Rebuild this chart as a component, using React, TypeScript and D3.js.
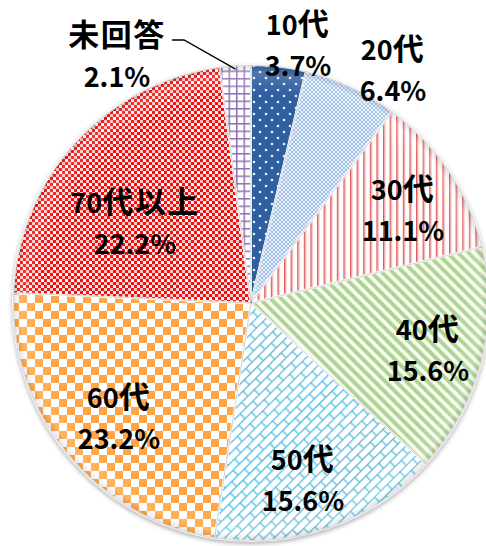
import React from 'react';
import * as d3 from 'd3';

// Age groups, clockwise from 12 o'clock
const categories = ['10代', '20代', '30代', '40代', '50代', '60代', '70代以上', '未回答'];
const shares = [3.7, 6.4, 11.1, 15.6, 15.6, 23.2, 22.2, 2.1];
const shareLabels = ['3.7%', '6.4%', '11.1%', '15.6%', '15.6%', '23.2%', '22.2%', '2.1%'];

// label layout (center x, first baseline)
const labelPos: [number, number][] = [
  [298, 35], [393, 60], [403, 200], [428, 340],
  [303, 470], [119, 408], [135, 213], [117, 46],
];

const patternIds = ['p10', 'p20', 'p30', 'p40', 'p50', 'p60', 'p70', 'pna'];

const W = 486;
const H = 546;
const cx = 251;
const cy = 303;
const R = 238;

// kanji a bit larger than the digits, like the original font mix
function runs(s: string) {
  const out: { t: string; cjk: boolean }[] = [];
  for (const ch of s) {
    const cjk = ch.charCodeAt(0) > 0x2000;
    const last = out[out.length - 1];
    if (last && last.cjk === cjk) last.t += ch;
    else out.push({ t: ch, cjk });
  }
  return out;
}

export default function App() {
  const pie = d3.pie<number>().sort(null).value(d => d)(shares);
  const arc = d3.arc<d3.PieArcDatum<number>>().innerRadius(0).outerRadius(R);
  const na = pie[pie.length - 1];
  const naMid = (na.startAngle + na.endAngle) / 2;
  const leadEnd: [number, number] = [
    cx + Math.sin(naMid) * R * 0.985,
    cy - Math.cos(naMid) * R * 0.985,
  ];
  const [lx, ly] = labelPos[7];

  return (
    <svg width={W} height={H} style={{ position: 'absolute', left: 0, top: 0 }}
      fontFamily="'Noto Sans CJK JP', 'Noto Sans', sans-serif">
      <defs>
        <filter id="shadow" x="-10%" y="-10%" width="120%" height="120%" colorInterpolationFilters="sRGB">
          <feGaussianBlur in="SourceAlpha" stdDeviation="2.2" />
          <feOffset dy="1.5" result="b" />
          <feFlood floodColor="#000" floodOpacity="0.3" />
          <feComposite in2="b" operator="in" />
          <feMerge>
            <feMergeNode />
            <feMergeNode in="SourceGraphic" />
          </feMerge>
        </filter>
        <radialGradient id="bevel" cx={0} cy={0} r={R} gradientUnits="userSpaceOnUse">
          <stop offset="0.88" stopColor="#fff" stopOpacity="0" />
          <stop offset="0.97" stopColor="#fff" stopOpacity="0.15" />
          <stop offset="1" stopColor="#000" stopOpacity="0.1" />
        </radialGradient>
        {/* 10代: dark blue, white dots */}
        <pattern id="p10" width="12" height="12" patternUnits="userSpaceOnUse">
          <rect width="12" height="12" fill="#2E5F9F" />
          <circle cx="3" cy="3" r="1.3" fill="#fff" opacity="0.9" />
          <circle cx="9" cy="9" r="1.3" fill="#fff" opacity="0.9" />
        </pattern>
        {/* 20代: fine light blue checker */}
        <pattern id="p20" width="4" height="4" patternUnits="userSpaceOnUse">
          <rect width="4" height="4" fill="#EAF1FA" />
          <rect width="2" height="2" fill="#9DBFE8" />
          <rect x="2" y="2" width="2" height="2" fill="#9DBFE8" />
        </pattern>
        {/* 30代: red vertical stripes */}
        <pattern id="p30" width="6.6" height="10" patternUnits="userSpaceOnUse">
          <rect width="6.6" height="10" fill="#fff" />
          <rect x="0" width="1.5" height="10" fill="#E05A5A" />
          <rect x="1.5" width="0.9" height="10" fill="#F2B4B4" />
        </pattern>
        {/* 40代: green diagonal stripes */}
        <pattern id="p40" width="7.5" height="10" patternUnits="userSpaceOnUse" patternTransform="rotate(-45)">
          <rect width="7.5" height="10" fill="#F7FBF2" />
          <rect width="3.8" height="10" fill="#ADD491" />
        </pattern>
        {/* 50代: diagonal brick */}
        <pattern id="p50" width="18" height="14" patternUnits="userSpaceOnUse" patternTransform="rotate(-45)">
          <rect width="18" height="14" fill="#fff" />
          <g stroke="#55BCE0" strokeWidth="1.3">
            <line x1="0" y1="0.6" x2="18" y2="0.6" />
            <line x1="0" y1="7.6" x2="18" y2="7.6" />
            <line x1="4" y1="0.6" x2="4" y2="7.6" />
            <line x1="13" y1="7.6" x2="13" y2="14" />
          </g>
        </pattern>
        {/* 60代: orange large checker */}
        <pattern id="p60" width="16" height="16" patternUnits="userSpaceOnUse">
          <rect width="16" height="16" fill="#fff" />
          <rect width="8" height="8" fill="#FFA646" />
          <rect x="8" y="8" width="8" height="8" fill="#FFA646" />
        </pattern>
        {/* 70代以上: red small checker */}
        <pattern id="p70" width="6" height="6" patternUnits="userSpaceOnUse">
          <rect width="6" height="6" fill="#FF0A0A" />
          <rect width="3" height="3" fill="#fff" />
          <rect x="3" y="3" width="3" height="3" fill="#FFC8C8" />
        </pattern>
        {/* 未回答: purple grid */}
        <pattern id="pna" width="7.5" height="7.5" patternUnits="userSpaceOnUse">
          <rect width="7.5" height="7.5" fill="#fff" />
          <rect width="7.5" height="1.5" fill="#8E72B4" />
          <rect width="1.5" height="7.5" fill="#8E72B4" />
        </pattern>
      </defs>

      <g transform={`translate(${cx},${cy})`}>
        <g filter="url(#shadow)">
          {pie.map((d, i) => (
            <path key={categories[i]} d={arc(d) || ''} fill={`url(#${patternIds[i]})`}
              stroke="#fff" strokeWidth={2} strokeLinejoin="round" />
          ))}
        </g>
        {pie.map((d, i) => (
          <path key={'b' + i} d={arc(d) || ''} fill="url(#bevel)" />
        ))}
        {pie.map((d, i) => (
          <path key={'s' + i} d={arc(d) || ''} fill="none" stroke="#000" strokeOpacity={0.12}
            strokeWidth={0.8} />
        ))}
      </g>

      <polyline
        points={`${lx + 55},${ly - 6} ${lx + 67},${ly - 6} ${leadEnd[0]},${leadEnd[1]}`}
        fill="none" stroke="#000" strokeWidth={1.3} />

      {categories.map((c, i) => (
        <g key={'l' + i} fontWeight="bold" fontSize={27} textAnchor="middle" fill="#000">
          <text x={labelPos[i][0]} y={labelPos[i][1]}>
            {runs(c).map((r, j) => (
              <tspan key={j} fontSize={r.cjk ? 31 : 27} letterSpacing={r.cjk ? 1.5 : 0}>{r.t}</tspan>
            ))}
          </text>
          <text x={labelPos[i][0]} y={labelPos[i][1] + 41}>{shareLabels[i]}</text>
        </g>
      ))}
    </svg>
  );
}
